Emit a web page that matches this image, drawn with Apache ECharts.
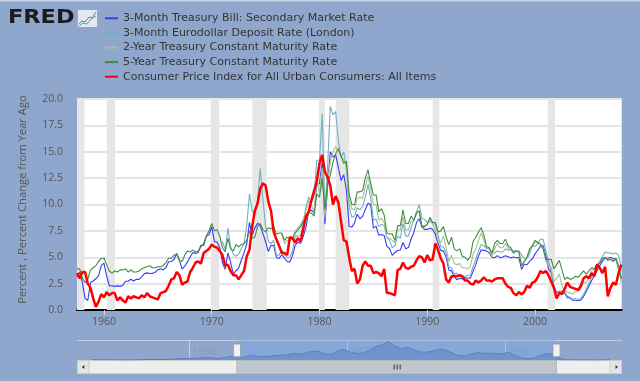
<!DOCTYPE html>
<html><head><meta charset="utf-8">
<script src="https://cdn.jsdelivr.net/npm/echarts@6/dist/echarts.min.js"></script>
<style>html,body{margin:0;padding:0;background:#90a7cd;}#c{width:640px;height:381px;}</style>
</head><body><div id="c"></div>
<script>
const seriesNames = [
  '3-Month Treasury Bill: Secondary Market Rate',
  '3-Month Eurodollar Deposit Rate (London)',
  '2-Year Treasury Constant Maturity Rate',
  '5-Year Treasury Constant Maturity Rate',
  'Consumer Price Index for All Urban Consumers: All Items'
];
const seriesColors = ['#3a3af5', '#6fb0c4', '#a8c08c', '#3f8c3f', '#ff0000'];

// quarterly samples (Jan, Apr, Jul, Oct), starting Jul 1957
const quarterStart = 1957.5, quarterStep = 0.25;

const tbill3m = [
  3.16, 3.59,
  2.6, 1.1, 0.9, 2.6,   2.75, 2.96, 3.24, 4.2,   4.45, 3.23, 2.3, 2.3,
  2.24, 2.29, 2.24, 2.33,   2.72, 2.73, 2.92, 2.75,   2.91, 2.9, 3.14, 3.45,
  3.52, 3.46, 3.47, 3.57,   3.81, 3.91, 3.81, 4.03,   4.58, 4.6, 4.78, 5.35,
  4.72, 3.88, 4.15, 4.56,   5.02, 5.45, 5.36, 5.46,   6.14, 6.11, 7.01, 7.13,
  7.87, 6.48, 6.45, 5.93,   4.44, 3.86, 5.4, 4.54,   3.4, 3.72, 3.98, 4.74,
  5.41, 6.26, 8.3, 7.09,   7.76, 8.23, 8.0, 7.24,   6.49, 5.54, 6.13, 6.11,
  4.96, 4.88, 5.23, 4.92,   4.6, 4.54, 5.19, 6.16,   6.44, 6.29, 7.01, 7.85,
  9.35, 9.46, 9.24, 11.84,   12.0, 14.0, 8.13, 11.62,   15.0, 14.5, 14.7, 13.5,
  12.28, 12.82, 11.35, 7.92,   7.86, 8.23, 9.08, 8.64,   8.9, 9.52, 10.12, 9.97,
  7.76, 7.95, 7.08, 7.16,   7.07, 6.06, 5.83, 5.18,   5.45, 5.64, 5.69, 6.4,
  5.81, 5.92, 6.73, 7.35,   8.29, 8.65, 7.88, 7.64,   7.64, 7.76, 7.66, 7.17,
  6.3, 5.65, 5.58, 5.03,   3.8, 3.71, 3.21, 2.86,   3.0, 2.93, 3.06, 3.04,
  3.02, 3.66, 4.3, 5.1,   5.71, 5.65, 5.59, 5.44,   5.0, 4.95, 5.15, 4.96,
  5.03, 5.14, 5.05, 4.95,   5.02, 4.95, 4.96, 3.86,   4.34, 4.29, 4.6, 4.86,
  5.32, 5.66, 6.04, 6.11,   5.16, 3.87, 3.54, 2.2,   1.65, 1.72, 1.68, 1.58,
  1.17, 1.13, 0.92, 0.92,   0.88, 0.94, 1.27, 1.76,   2.28, 2.79, 3.22, 3.71,
  4.2, 4.6, 4.91, 4.92,   4.98, 4.87, 4.82, 3.9,
  3.0
];

const euroStart = 1971.0;
const eurodollar3m = [
  6.5, 5.7, 7.8, 6.0,   5.3, 5.1, 5.3, 5.8,   6.3, 8.0, 11.0, 9.4,
  9.1, 10.2, 13.4, 10.5,   7.9, 6.5, 6.3, 6.6,   5.2, 5.2, 5.7, 5.2,
  5.0, 5.0, 5.6, 7.0,   7.0, 7.1, 8.3, 9.8,   10.7, 10.2, 10.8, 14.2,
  14.2, 18.6, 9.4, 13.5,   19.3, 18.5, 18.8, 16.0,   14.5, 15.0, 13.3, 9.8,
  8.8, 8.9, 9.7, 9.5,   9.8, 10.7, 11.9, 10.6,   8.5, 8.6, 7.9, 8.1,
  8.0, 6.9, 6.6, 5.9,   6.1, 7.0, 6.8, 8.2,   7.0, 7.0, 7.8, 8.5,
  9.3, 10.0, 8.7, 8.6,   8.3, 8.4, 8.2, 8.1,   7.1, 6.0, 6.0, 5.4,
  4.1, 4.0, 3.4, 3.5,   3.2, 3.1, 3.2, 3.3,   3.3, 4.1, 4.8, 5.6,
  6.2, 6.1, 5.8, 5.8,   5.4, 5.4, 5.6, 5.5,   5.5, 5.8, 5.7, 5.7,
  5.6, 5.6, 5.6, 5.2,   4.9, 4.9, 5.3, 6.1,   6.0, 6.3, 6.7, 6.7,
  5.6, 4.6, 3.7, 2.3,   1.7, 1.8, 1.8, 1.7,   1.3, 1.2, 1.0, 1.1,
  1.0, 1.1, 1.5, 2.0,   2.5, 3.1, 3.5, 4.2,   4.6, 5.1, 5.5, 5.4,
  5.4, 5.3, 5.4, 5.2,
  4.0
];

const twoYearStart = 1976.5;
const treasury2y = [
  7.2, 6.3,
  6.6, 6.6, 6.7, 7.5,   7.8, 8.1, 8.6, 9.4,   10.4, 9.9, 9.3, 12.3,
  11.1, 13.5, 8.7, 12.2,   14.0, 15.0, 15.5, 15.0,   14.6, 14.2, 13.8, 10.3,
  9.6, 9.5, 10.6, 10.7,   10.6, 11.7, 12.7, 11.4,   10.0, 10.0, 8.5, 8.7,
  8.3, 6.9, 6.8, 6.6,   6.4, 7.6, 7.6, 8.8,   7.6, 7.6, 8.4, 8.4,
  9.2, 9.4, 8.0, 8.0,   8.1, 8.7, 8.1, 7.6,   6.6, 6.4, 7.0, 5.9,
  4.6, 5.2, 4.4, 4.3,   4.4, 4.0, 4.0, 3.9,   4.1, 5.3, 5.8, 6.6,
  7.3, 6.6, 5.9, 5.8,   5.1, 5.8, 6.3, 5.9,   5.9, 6.3, 5.9, 5.7,
  5.4, 5.6, 5.5, 4.2,   4.6, 4.9, 5.7, 6.0,   6.4, 6.4, 6.3, 5.9,
  4.7, 4.2, 4.0, 2.7,   3.0, 3.4, 2.3, 1.8,   1.7, 1.6, 1.5, 1.8,
  1.8, 2.0, 2.6, 2.6,   3.2, 3.7, 3.9, 4.3,   4.4, 4.9, 5.0, 4.7,
  4.9, 4.7, 4.8, 4.0,
  2.6
];

const treasury5y = [
  3.9, 3.9,
  3.0, 2.6, 2.9, 3.8,   4.0, 4.2, 4.6, 4.9,   4.9, 4.3, 3.7, 3.5,
  3.7, 3.6, 3.8, 3.8,   3.9, 3.6, 3.8, 3.6,   3.6, 3.7, 3.9, 4.0,
  4.1, 4.2, 4.0, 4.0,   4.1, 4.1, 4.2, 4.5,   4.9, 4.9, 5.2, 5.3,
  4.7, 4.6, 5.2, 5.6,   5.5, 5.7, 5.5, 5.6,   6.0, 6.3, 7.0, 7.5,
  8.2, 7.5, 7.6, 7.0,   5.9, 5.5, 6.8, 5.8,   5.6, 6.2, 6.0, 6.2,
  6.3, 6.6, 7.5, 6.8,   6.9, 7.9, 8.2, 7.6,   7.4, 7.8, 7.7, 7.9,
  7.2, 7.3, 7.3, 6.6,   6.9, 6.8, 6.8, 7.3,   7.6, 7.9, 8.4, 8.6,
  9.2, 9.2, 8.9, 11.0,   10.7, 12.5, 9.5, 12.0,   12.8, 14.0, 14.8, 15.3,
  14.6, 13.9, 14.1, 11.0,   10.0, 10.0, 11.2, 11.2,   11.3, 12.5, 13.3, 12.0,
  10.9, 10.9, 9.3, 9.6,   9.0, 7.3, 7.2, 7.2,   6.6, 8.0, 8.0, 9.5,
  8.2, 8.2, 8.9, 8.5,   9.2, 9.4, 7.9, 7.9,   8.1, 8.8, 8.3, 8.3,
  7.4, 7.5, 7.9, 6.9,   6.2, 6.9, 5.8, 5.6,   5.8, 5.1, 5.0, 4.7,
  5.1, 6.5, 6.9, 7.4,   7.8, 7.1, 6.0, 5.9,   5.4, 6.3, 6.6, 6.3,
  6.3, 6.7, 6.1, 5.9,   5.4, 5.6, 5.5, 4.2,   4.6, 5.0, 5.8, 6.1,
  6.6, 6.4, 6.2, 5.8,   4.8, 4.8, 4.8, 3.9,   4.3, 4.7, 3.8, 2.9,
  3.1, 2.9, 3.0, 3.2,   3.1, 3.4, 3.7, 3.4,   3.7, 4.0, 3.9, 4.3,
  4.4, 4.9, 5.0, 4.7,   4.8, 4.6, 4.9, 4.2,
  3.0
];

const cpiYoY = [
  3.5, 3.0,
  3.6, 3.6, 2.5, 2.1,   1.1, 0.3, 0.8, 1.5,   1.2, 1.7, 1.4, 1.6,
  1.6, 0.9, 1.2, 0.9,   0.7, 1.3, 1.1, 1.3,   1.2, 1.1, 1.4, 1.2,
  1.6, 1.3, 1.2, 1.1,   1.0, 1.6, 1.7, 1.8,   2.3, 2.9, 3.0, 3.6,
  3.3, 2.4, 2.6, 2.7,   3.6, 4.0, 4.5, 4.6,   4.4, 5.4, 5.6, 5.8,
  6.2, 6.0, 5.9, 5.6,   5.2, 4.2, 4.3, 3.7,   3.3, 3.3, 2.9, 3.3,
  3.7, 5.1, 5.7, 7.9,   9.4, 10.1, 11.5, 12.0,   11.8, 10.3, 9.4, 7.4,
  6.7, 6.1, 5.4, 5.4,   5.2, 6.9, 6.8, 6.4,   6.8, 6.5, 7.7, 8.9,
  9.3, 10.4, 11.3, 12.2,   13.9, 14.7, 13.1, 12.6,   11.8, 10.0, 10.8, 10.2,
  8.4, 6.6, 6.5, 5.0,   3.7, 3.9, 2.5, 2.9,   4.2, 4.6, 4.2, 4.2,
  3.5, 3.6, 3.5, 3.2,   3.9, 1.6, 1.6, 1.5,   1.4, 3.8, 3.9, 4.5,
  4.0, 3.9, 4.1, 4.2,   4.7, 5.1, 5.0, 4.5,   5.2, 4.7, 4.8, 6.3,
  5.7, 4.9, 4.4, 2.9,   2.6, 3.2, 3.2, 3.2,   3.3, 3.2, 2.8, 2.8,
  2.5, 2.4, 2.8, 2.6,   2.8, 3.1, 2.8, 2.8,   2.7, 2.9, 3.0, 3.0,
  3.0, 2.5, 2.2, 2.1,   1.6, 1.4, 1.7, 1.5,   1.7, 2.3, 2.1, 2.6,
  2.7, 3.1, 3.7, 3.5,   3.7, 3.3, 2.7, 2.1,   1.1, 1.6, 1.5, 2.0,
  2.6, 2.2, 2.1, 2.0,   1.9, 2.3, 3.0, 3.2,   3.0, 3.5, 3.2, 4.3,
  4.0, 3.5, 4.1, 1.3,   2.1, 2.6, 2.4, 3.5,
  4.3
];

// shaded recessions [start, end] in years
const recessions = [
  [1957.5, 1958.2], [1960.26, 1961.03], [1969.91, 1970.7], [1973.77, 1975.1],
  [1979.95, 1980.5], [1981.5, 1982.77], [1990.5, 1991.12], [2001.18, 2001.85]
];
const xTickYears = [1960, 1970, 1980, 1990, 2000];

// navigator: annual 3-month T-bill, 1934..2016 (plotted mid-year)
const navStart = 1934;
const navTbillAnnual = [
  0.28, 0.17, 0.17, 0.28, 0.07, 0.05, 0.04, 0.13, 0.34, 0.38,
  0.38, 0.38, 0.38, 0.61, 1.05, 1.12, 1.2, 1.52, 1.72, 1.89,
  0.94, 1.73, 2.63, 3.23, 1.78, 3.39, 2.87, 2.36, 2.77, 3.16,
  3.55, 3.95, 4.86, 4.29, 5.34, 6.67, 6.39, 4.33, 4.06, 7.03,
  7.83, 5.78, 4.97, 5.27, 7.19, 10.07, 11.43, 14.03, 10.61, 8.61,
  9.52, 7.48, 5.98, 5.82, 6.69, 8.12, 7.51, 5.42, 3.45, 3.02,
  4.29, 5.51, 5.02, 5.07, 4.81, 4.66, 5.85, 3.45, 1.62, 1.02,
  1.38, 3.16, 4.73, 4.41, 1.48, 0.16, 0.14, 0.05, 0.09, 0.06,
  0.03, 0.05, 0.32
];
const navTickYears = [1950, 1975, 2000];
const navWindow = [1957.5, 2008.08];

function toPairs(start, vals) {
  return vals.map((v, i) => [start + i * quarterStep, v]);
}

const chart = echarts.init(document.getElementById('c'), null, { renderer: 'canvas' });
const font = 'Open Sans';
const legendFont = 'DejaVu Sans';

const valueArrays = [
  toPairs(quarterStart, tbill3m),
  toPairs(euroStart, eurodollar3m),
  toPairs(twoYearStart, treasury2y),
  toPairs(quarterStart, treasury5y),
  toPairs(quarterStart, cpiYoY)
];

const mainSeries = valueArrays.map((d, k) => ({
  name: seriesNames[k],
  type: 'line',
  data: d,
  xAxisIndex: 0, yAxisIndex: 0,
  showSymbol: false,
  symbol: 'none',
  z: 3,
  color: seriesColors[k],
  lineStyle: { color: seriesColors[k], width: k === 4 ? 2.5 : 1.1 },
  emphasis: { disabled: true }
}));

const option = {
  animation: false,
  backgroundColor: '#90a7cd',
  textStyle: { fontFamily: font },
  legend: {
    orient: 'vertical',
    left: 100, top: 6,
    itemWidth: 13, itemHeight: 2, itemGap: 0,
    selectedMode: false,
    icon: 'rect',
    data: seriesNames.map((n) => ({ name: n, icon: 'rect' })),
    textStyle: { color: '#333', fontSize: 11, fontFamily: legendFont, lineHeight: 14.6 }
  },
  grid: [
    { left: 77, right: 18.3, top: 99, bottom: 71, show: true, backgroundColor: '#ffffff', borderWidth: 0 },
    { left: 89, right: 30, top: 340, height: 20, show: false }
  ],
  xAxis: [
    {
      type: 'value', gridIndex: 0, min: 1957.5, max: 2008.04,
      axisLine: { show: true, lineStyle: { color: '#000', width: 2 } },
      axisTick: { show: true, customValues: xTickYears, length: 5, lineStyle: { color: '#c8d2e4' } },
      axisLabel: { customValues: xTickYears, formatter: (v) => String(v), color: '#555', fontSize: 10.5, margin: 7, fontFamily: font },
      splitLine: { show: false }
    },
    {
      type: 'value', gridIndex: 1, min: 1934.1, max: 2016.55,
      axisLine: { show: false },
      axisTick: { show: true, inside: true, length: 20, customValues: navTickYears, lineStyle: { color: '#c5d1e6', width: 1 } },
      axisLabel: { show: true, inside: true, customValues: navTickYears, formatter: (v) => String(v), color: '#8c96aa', fontSize: 10.5, margin: 2, align: 'left', padding: [0, 0, 0, 3], fontFamily: font },
      splitLine: { show: false }
    }
  ],
  yAxis: [
    {
      type: 'value', gridIndex: 0, min: 0, max: 20, interval: 2.5,
      name: 'Percent , Percent Change from Year Ago',
      nameLocation: 'middle', nameGap: 49,
      nameTextStyle: { color: '#555', fontSize: 11.2, fontFamily: font, padding: [0, 0, 0, 10] },
      axisLine: { show: false }, axisTick: { show: false },
      axisLabel: { formatter: (v) => v.toFixed(1), color: '#555', fontSize: 10.5, margin: 14, fontFamily: font },
      splitLine: { show: true, lineStyle: { color: '#e4e4e4', width: 2 } }
    },
    {
      type: 'value', gridIndex: 1, min: 0, max: 15,
      show: false, splitLine: { show: false }
    }
  ],
  series: [
    {
      name: 'recessions', type: 'line', data: [], xAxisIndex: 0, yAxisIndex: 0, z: 1,
      markArea: {
        silent: true,
        itemStyle: { color: '#e6e6e6' },
        data: recessions.map((r) => [{ xAxis: r[0] }, { xAxis: r[1] }])
      }
    },
    ...mainSeries,
    {
      name: 'navigator', type: 'line', xAxisIndex: 1, yAxisIndex: 1,
      data: navTbillAnnual.map((v, i) => [navStart + i + 0.5, v]),
      showSymbol: false, symbol: 'none', z: 2,
      lineStyle: { color: '#5b80c0', width: 1 },
      areaStyle: { color: '#6f93cb', opacity: 1 },
      markArea: {
        silent: true,
        itemStyle: { color: 'rgba(120,168,238,0.35)' },
        data: [[{ xAxis: navWindow[0] }, { xAxis: navWindow[1] }]]
      },
      markPoint: {
        silent: true,
        symbol: 'rect', symbolSize: [7, 13],
        itemStyle: { color: '#f2f2f2', borderColor: '#9a9a9a', borderWidth: 1 },
        label: { show: false },
        data: navWindow.map((x) => ({ coord: [x, 7.2] }))
      }
    }
  ]
};

chart.setOption(option);

const x0 = chart.convertToPixel({ xAxisIndex: 1 }, navWindow[0]);
const x1 = chart.convertToPixel({ xAxisIndex: 1 }, navWindow[1]);
const mid = (x0 + x1) / 2;

chart.setOption({
  graphic: [
    { type: 'rect', shape: { x: 0, y: 0, width: 640, height: 1.5 }, style: { fill: '#c6d2e8' }, silent: true },
    { type: 'text', x: 8, y: 18.5, scaleX: 1.18, style: { text: 'FRED', font: 'bold 19px "DejaVu Sans"', fill: '#1c1a1b', verticalAlign: 'middle' }, silent: true },
    { type: 'rect', shape: { x: 78, y: 10, width: 19, height: 17 }, style: { fill: '#e2e8f0' }, silent: true },
    { type: 'polyline', shape: { points: [[79, 24], [82, 21], [85, 22], [89, 17], [92, 18], [96, 12]] }, style: { stroke: '#4f9b3c', lineWidth: 1, fill: null }, silent: true },
    { type: 'polyline', shape: { points: [[79, 26], [83, 23], [87, 24], [91, 19], [96, 16]] }, style: { stroke: '#6b90d2', lineWidth: 1, fill: null }, silent: true },
    { type: 'line', shape: { x1: 77, y1: 340.5, x2: 622, y2: 340.5 }, style: { stroke: '#c2cde0', lineWidth: 1 }, silent: true },
    { type: 'rect', shape: { x: 77.5, y: 360.5, width: 544, height: 13 }, style: { fill: '#eeeeee', stroke: '#cccccc', lineWidth: 1 }, silent: true },
    { type: 'rect', shape: { x: 77.5, y: 360.5, width: 11.5, height: 13 }, style: { fill: '#e4e4e4', stroke: '#cccccc', lineWidth: 1 }, silent: true },
    { type: 'rect', shape: { x: 610, y: 360.5, width: 11.5, height: 13 }, style: { fill: '#e4e4e4', stroke: '#cccccc', lineWidth: 1 }, silent: true },
    { type: 'polygon', shape: { points: [[81.8, 367], [84.3, 365], [84.3, 369]] }, style: { fill: '#333' }, silent: true },
    { type: 'polygon', shape: { points: [[618, 367], [615.5, 365], [615.5, 369]] }, style: { fill: '#333' }, silent: true },
    { type: 'rect', shape: { x: x0, y: 360.5, width: x1 - x0, height: 13 }, style: { fill: '#bfc6ce', stroke: '#b2b8c0', lineWidth: 1 }, silent: true },
    { type: 'line', shape: { x1: mid - 2.5, y1: 364.5, x2: mid - 2.5, y2: 369.5 }, style: { stroke: '#333', lineWidth: 1 }, silent: true },
    { type: 'line', shape: { x1: mid + 0.5, y1: 364.5, x2: mid + 0.5, y2: 369.5 }, style: { stroke: '#333', lineWidth: 1 }, silent: true },
    { type: 'line', shape: { x1: mid + 3.5, y1: 364.5, x2: mid + 3.5, y2: 369.5 }, style: { stroke: '#333', lineWidth: 1 }, silent: true }
  ]
});
</script>
</body></html>
